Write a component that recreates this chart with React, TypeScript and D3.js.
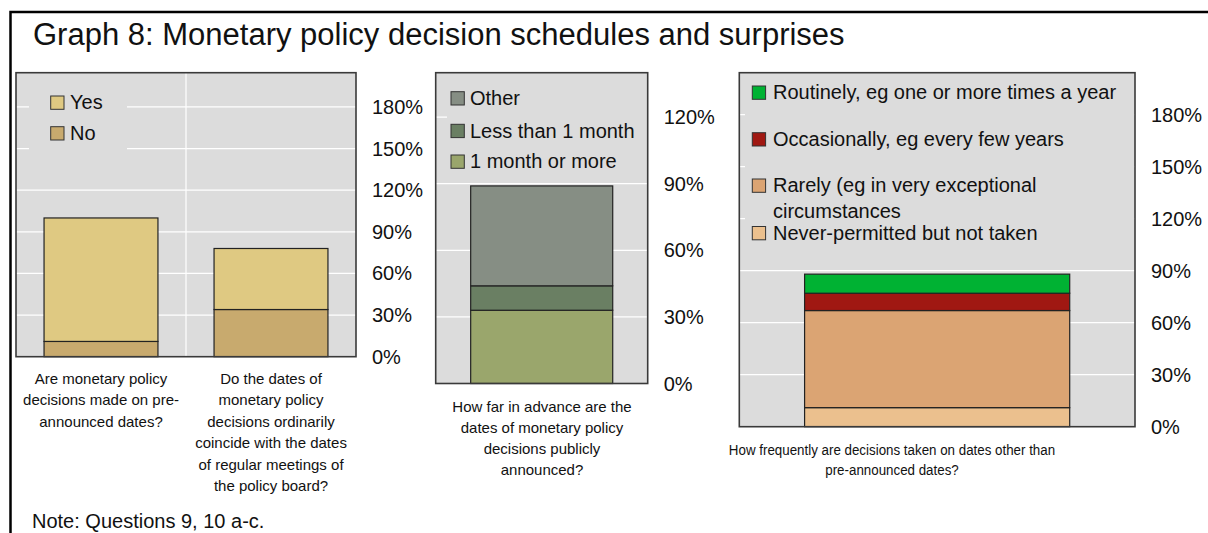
import React from "react";
import * as d3 from "d3";

// ---------- DATA ----------
const titleText = "Graph 8: Monetary policy decision schedules and surprises";
const noteText = "Note: Questions 9, 10 a-c.";

// Panel 1
const p1Categories = ["Q9", "Q10a"];
const p1Labels = [
  ["Are monetary policy", "decisions made on pre-", "announced dates?"],
  ["Do the dates of", "monetary policy", "decisions ordinarily", "coincide with the dates", "of regular meetings of", "the policy board?"],
];
const p1No = [11, 34];
const p1Yes = [89, 44];
const p1Ticks = [0, 30, 60, 90, 120, 150, 180];

// Panel 2
const p2Categories = ["Q10b"];
const p2Labels = [["How far in advance are the", "dates of monetary policy", "decisions publicly", "announced?"]];
const p2MonthOrMore = [33];
const p2LessThanMonth = [11];
const p2Other = [45];
const p2Ticks = [0, 30, 60, 90, 120];

// Panel 3
const p3Categories = ["Q10c"];
const p3Labels = [["How frequently are decisions taken on dates other than", "pre-announced dates?"]];
const p3Never = [11];
const p3Rarely = [56];
const p3Occasionally = [10];
const p3Routinely = [11];
const p3Ticks = [0, 30, 60, 90, 120, 150, 180];

// ---------- STYLE ----------
const FONT = "'Liberation Sans', Arial, Helvetica, sans-serif";
const PLOT_BG = "#DCDCDC";
const BORDER = "#3a3a3a";

type Series = { key: string; label: string[]; color: string; values: number[] };

type PanelProps = {
  x: number; y: number; w: number; h: number; yMax: number;
  ticks: number[]; cats: string[]; series: Series[];
  legendBox: { x: number; y: number; w: number; h: number };
  legendItems: { sx: number; sy: number; tx: number; lineGap: number }[];
  labels: string[][];
  labelCenters?: number[];
  labelTop: number; labelGap: number; labelScale: number;
  vGrid: boolean;
};

function Panel(p: PanelProps) {
  const yScale = d3.scaleLinear().domain([0, p.yMax]).range([p.y + p.h, p.y]);
  const xScale = d3.scaleBand<string>().domain(p.cats).range([p.x, p.x + p.w]).paddingInner(0.33).paddingOuter(0.165);
  const rows = p.cats.map((c, i) => {
    const r: any = { cat: c };
    p.series.forEach((s) => (r[s.key] = s.values[i]));
    return r;
  });
  const stacked = d3.stack<any>().keys(p.series.map((s) => s.key))(rows);
  const step = xScale.step();
  return (
    <g>
      <rect x={p.x} y={p.y} width={p.w} height={p.h} fill={PLOT_BG} />
      {p.ticks.filter((t) => t > 0).map((t) => (
        <line key={"g" + t} x1={p.x} x2={p.x + p.w} y1={yScale(t)} y2={yScale(t)} stroke="#ffffff" strokeWidth={1.2} />
      ))}
      {p.vGrid && p.cats.slice(1).map((c) => (
        <line key={"v" + c} x1={p.x + step * p.cats.indexOf(c)} x2={p.x + step * p.cats.indexOf(c)} y1={p.y} y2={p.y + p.h} stroke="#ffffff" strokeWidth={1.2} />
      ))}
      <rect x={p.legendBox.x} y={p.legendBox.y} width={p.legendBox.w} height={p.legendBox.h} fill={PLOT_BG} />
      {stacked.map((layer, li) => (
        <g key={layer.key}>
          {layer.map((d, i) => (
            <rect key={i} x={xScale(p.cats[i])} y={yScale(d[1])} width={xScale.bandwidth()} height={yScale(d[0]) - yScale(d[1])}
              fill={p.series[li].color} stroke="#222" strokeWidth={1.2} />
          ))}
        </g>
      ))}
      <rect x={p.x} y={p.y} width={p.w} height={p.h} fill="none" stroke={BORDER} strokeWidth={1.6} />
      {p.ticks.map((t) => (
        <text key={"t" + t} x={p.x + p.w + 16} y={yScale(t)} dy="0.35em" fontSize={20} fontFamily={FONT} fill="#111">{t + "%"}</text>
      ))}
      {p.series.map((s, i) => {
        const it = p.legendItems[i];
        return (
          <g key={"l" + s.key}>
            <rect x={it.sx} y={it.sy} width={13.3} height={13.3} fill={s.color} stroke="#333" strokeWidth={1} />
            {s.label.map((ln, j) => (
              <text key={j} x={it.tx} y={it.sy + 13.3 + j * it.lineGap} fontSize={20} fontFamily={FONT} fill="#111">{ln}</text>
            ))}
          </g>
        );
      })}
      {p.labels.map((lines, i) => {
        const cx = p.labelCenters ? p.labelCenters[i] : (xScale(p.cats[i]) as number) + xScale.bandwidth() / 2;
        return (
          <g key={"c" + i} transform={`translate(${cx},0) scale(${p.labelScale},1)`}>
            {lines.map((ln, j) => (
              <text key={j} x={0} y={p.labelTop + j * p.labelGap} textAnchor="middle" fontSize={15} fontFamily={FONT} fill="#111">{ln}</text>
            ))}
          </g>
        );
      })}
    </g>
  );
}

export default function App() {
  const s1: Series[] = [
    { key: "no", label: ["No"], color: "#C8AA6E", values: p1No },
    { key: "yes", label: ["Yes"], color: "#DFC982", values: p1Yes },
  ];
  const s2: Series[] = [
    { key: "m", label: ["1 month or more"], color: "#9AA66C", values: p2MonthOrMore },
    { key: "l", label: ["Less than 1 month"], color: "#6A7F63", values: p2LessThanMonth },
    { key: "o", label: ["Other"], color: "#868E84", values: p2Other },
  ];
  const s3: Series[] = [
    { key: "n", label: ["Never-permitted but not taken"], color: "#EBC08E", values: p3Never },
    { key: "r", label: ["Rarely (eg in very exceptional", "circumstances"], color: "#DBA473", values: p3Rarely },
    { key: "oc", label: ["Occasionally, eg every few years"], color: "#A01812", values: p3Occasionally },
    { key: "ro", label: ["Routinely, eg one or more times a year"], color: "#00B233", values: p3Routinely },
  ];
  return (
    <svg width={1208} height={533} style={{ position: "absolute", left: 0, top: 0, display: "block", background: "#fff" }}>
      <rect x={0} y={0} width={1208} height={533} fill="#fff" />
      <rect x={10.5} y={12} width={1300} height={600} fill="none" stroke="#000" strokeWidth={2.5} />
      <text x={33} y={45} fontSize={31} fontFamily={FONT} fill="#111">{titleText}</text>
      <Panel x={16} y={72.7} w={340} h={284} yMax={204.7} ticks={p1Ticks} cats={p1Categories} series={s1}
        legendBox={{ x: 29, y: 84, w: 98, h: 72 }}
        legendItems={[{ sx: 50.7, sy: 126.7, tx: 70, lineGap: 0 }, { sx: 50.7, sy: 96, tx: 70, lineGap: 0 }]}
        labels={p1Labels} labelTop={383.5} labelGap={21.5} labelScale={1} vGrid={true} />
      <Panel x={435.7} y={72.7} w={212} h={310.8} yMax={140} ticks={p2Ticks} cats={p2Categories} series={s2}
        legendBox={{ x: 447, y: 80, w: 200, h: 96 }}
        legendItems={[{ sx: 451, sy: 155, tx: 470, lineGap: 0 }, { sx: 451, sy: 124.3, tx: 470, lineGap: 0 }, { sx: 451, sy: 91.7, tx: 470, lineGap: 0 }]}
        labels={p2Labels} labelCenters={[542]} labelTop={411.5} labelGap={21} labelScale={1} vGrid={false} />
      <Panel x={739.3} y={72.7} w={395.7} h={354} yMax={204.2} ticks={p3Ticks} cats={p3Categories} series={s3}
        legendBox={{ x: 745, y: 78, w: 389, h: 172 }}
        legendItems={[{ sx: 752.3, sy: 226.5, tx: 773, lineGap: 0 }, { sx: 752.3, sy: 179, tx: 773, lineGap: 25.5 }, { sx: 752.3, sy: 132.7, tx: 773, lineGap: 0 }, { sx: 752.3, sy: 86, tx: 773, lineGap: 0 }]}
        labels={p3Labels} labelCenters={[892]} labelTop={455.5} labelGap={20} labelScale={0.89} vGrid={false} />
      <text x={32} y={528} fontSize={20} fontFamily={FONT} fill="#111">{noteText}</text>
    </svg>
  );
}
